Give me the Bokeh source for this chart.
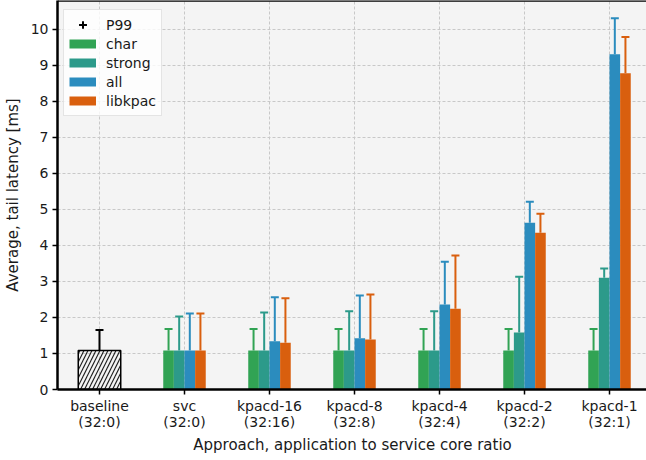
import numpy as np
from bokeh.plotting import figure
from bokeh.models import (Range1d, FixedTicker, Legend, LegendItem, ColumnDataSource, Span)
from bokeh.transform import dodge
from bokeh.embed import file_html
from bokeh.resources import INLINE

# ---------------- data ----------------
group_labels = ["baseline\n(32:0)", "svc\n(32:0)", "kpacd-16\n(32:16)", "kpacd-8\n(32:8)",
                "kpacd-4\n(32:4)", "kpacd-2\n(32:2)", "kpacd-1\n(32:1)"]
group_pos = [0, 1, 2, 3, 4, 5, 6]

baseline_avg = [1.08]
baseline_p99 = [1.65]

series_names = ["char", "strong", "all", "libkpac"]
series_colors = ["#31a354", "#2c9a8a", "#2b8cbe", "#d95f0e"]

char_avg = [1.08, 1.08, 1.08, 1.08, 1.08, 1.08]
char_p99 = [1.68, 1.68, 1.68, 1.68, 1.68, 1.68]
strong_avg = [1.08, 1.08, 1.08, 1.08, 1.58, 3.10]
strong_p99 = [2.03, 2.14, 2.17, 2.17, 3.13, 3.36]
all_avg = [1.08, 1.34, 1.42, 2.36, 4.63, 9.31]
all_p99 = [2.11, 2.56, 2.61, 3.55, 5.21, 10.31]
libkpac_avg = [1.08, 1.30, 1.39, 2.24, 4.35, 8.78]
libkpac_p99 = [2.11, 2.53, 2.64, 3.72, 4.88, 9.79]

y_ticks = [0, 1, 2, 3, 4, 5, 6, 7, 8, 9, 10]
y_max = 10.8

x_title = "Approach, application to service core ratio"
y_title = "Average, tail latency [ms]"

series_avg = [char_avg, strong_avg, all_avg, libkpac_avg]
series_p99 = [char_p99, strong_p99, all_p99, libkpac_p99]
series_offsets = [-0.1875, -0.0625, 0.0625, 0.1875]
bar_w = 0.125

FONT = "DejaVu Sans"
TXT = "#1a1a1a"

p = figure(frame_width=590, frame_height=389, output_backend="svg", toolbar_location=None,
           x_range=Range1d(-0.494, 6.447), y_range=Range1d(0, y_max),
           min_border_left=0, min_border_right=0, min_border_top=0, min_border_bottom=0)

p.background_fill_color = "#f4f4f4"
p.border_fill_color = "white"
p.outline_line_color = None

# x-axis title placed under the axis (matplotlib-like, centred on the full axes)
p.title_location = "below"
p.title.text = x_title
p.title.text_font = FONT
p.title.text_font_size = "15px"
p.title.text_font_style = "normal"
p.title.text_color = TXT
p.title.align = "center"
p.title.offset = 16
p.title.standoff = 0

# top spine (right side is cropped in the reference)
p.add_layout(Span(location=y_max, dimension="width", line_color="black", line_width=2.5))

# grids
for g in (p.xgrid, p.ygrid):
    g.grid_line_color = "#c8c8c8"
    g.grid_line_dash = "3 2"
    g.grid_line_width = 1
p.xgrid.ticker = FixedTicker(ticks=group_pos)
p.ygrid.ticker = FixedTicker(ticks=y_ticks)

# axes
p.xaxis.ticker = FixedTicker(ticks=group_pos)
p.xaxis.major_label_overrides = {i: lab for i, lab in zip(group_pos, group_labels)}
p.yaxis.ticker = FixedTicker(ticks=y_ticks)
for ax in (p.xaxis[0], p.yaxis[0]):
    ax.axis_line_color = "black"
    ax.axis_line_width = 2.5
    ax.major_tick_line_color = "black"
    ax.major_tick_line_width = 1.5
    ax.major_tick_out = 5
    ax.major_tick_in = 0
    ax.minor_tick_line_color = None
    ax.major_label_text_font = FONT
    ax.major_label_text_font_size = "14px"
    ax.major_label_text_color = TXT
    ax.axis_label_text_font = FONT
    ax.axis_label_text_font_size = "15px"
    ax.axis_label_text_font_style = "normal"
    ax.axis_label_text_color = TXT
p.xaxis.major_label_text_line_height = 1.05
p.yaxis.axis_label = y_title
p.yaxis.axis_label_standoff = 6
p.xaxis.major_label_standoff = 3
p.yaxis.major_label_standoff = 4

# baseline hatched bar
bsrc = ColumnDataSource(dict(x=[group_pos[0]], avg=baseline_avg, p99=baseline_p99))
p.vbar(x="x", top="avg", bottom=0, width=0.5, source=bsrc, fill_alpha=0,
       line_color="black", line_width=1.5, hatch_pattern="/", hatch_color="#222222",
       hatch_scale=8, hatch_weight=1.2)
p.segment(x0="x", y0="avg", x1="x", y1="p99", source=bsrc, line_color="black", line_width=2)
p.scatter(x="x", y="p99", source=bsrc, marker="dash", size=8, line_color="black", line_width=2)

# grouped bars
legend_items = []
for name, color, avg, p99, off in zip(series_names, series_colors, series_avg, series_p99, series_offsets):
    src = ColumnDataSource(dict(x=group_pos[1:], avg=avg, p99=p99))
    xd = dodge("x", off, range=p.x_range)
    p.vbar(x=xd, top="avg", bottom=0, width=bar_w, source=src,
           fill_color=color, line_color=None)
    p.segment(x0=xd, y0="avg", x1=xd, y1="p99", source=src, line_color=color, line_width=2)
    p.scatter(x=xd, y="p99", source=src, marker="dash", size=8, line_color=color, line_width=2)
    # legend proxy (nothing drawn in the plot: NaN point)
    lr = p.line(x=[np.nan], y=[np.nan], line_color=color, line_width=9, line_cap="butt")
    legend_items.append(LegendItem(label=name, renderers=[lr]))

# P99 legend symbol proxy
h1 = p.scatter(x=[np.nan], y=[np.nan], marker="dash", size=8, line_color="black", line_width=2)
h2 = p.scatter(x=[np.nan], y=[np.nan], marker="cross", size=8, line_color="black", line_width=2)
legend_items.insert(0, LegendItem(label="P99", renderers=[h1, h2]))

legend = Legend(items=legend_items, location=(6, 273))
legend.margin = 0
legend.padding = 5
legend.spacing = 0
legend.glyph_width = 27
legend.glyph_height = 19
legend.label_height = 19
legend.label_standoff = 10
legend.label_text_font = FONT
legend.label_text_font_size = "14px"
legend.label_text_color = TXT
legend.border_line_color = "#cccccc"
legend.border_line_width = 1
legend.background_fill_color = "white"
legend.background_fill_alpha = 0.8
p.add_layout(legend)

html = file_html(p, INLINE)
html = html.replace("</head>", "<style>html, body { overflow: hidden; }</style></head>", 1)
open("out.html", "w").write(html)
